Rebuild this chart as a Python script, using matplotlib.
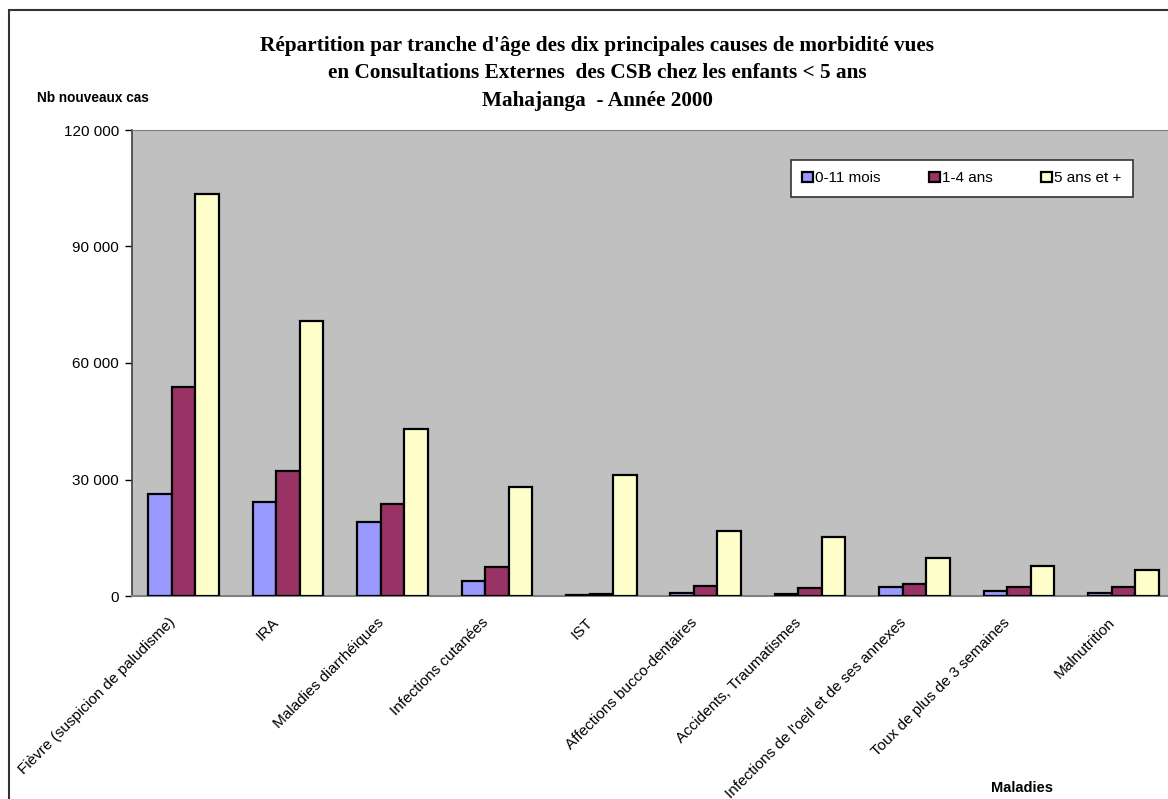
"""
Répartition par tranche d'âge des dix principales causes de morbidité - Mahajanga 2000.
"""
import matplotlib
matplotlib.use("Agg")
import matplotlib.pyplot as plt
import matplotlib.transforms as mtransforms
import numpy as np
from matplotlib.patches import Rectangle
from matplotlib.ticker import FuncFormatter, MultipleLocator

plt.rcParams["font.family"] = ["Liberation Sans", "DejaVu Sans"]

maladies = [
    "Fièvre (suspicion de paludisme)",
    "IRA",
    "Maladies diarrhéiques",
    "Infections cutanées",
    "IST",
    "Affections bucco-dentaires",
    "Accidents, Traumatismes",
    "Infections de l'oeil et de ses annexes",
    "Toux de plus de 3 semaines",
    "Malnutrition",
]
tranches = ["0-11 mois", "1-4 ans", "5 ans et +"]

cas_0_11_mois = [26200, 24300, 19000, 3900, 200, 800, 400, 2300, 1200, 900]
cas_1_4_ans = [53700, 32200, 23700, 7400, 400, 2700, 2100, 3000, 2400, 2200]
cas_5_ans_plus = [103400, 70800, 42900, 28100, 31200, 16800, 15300, 9800, 7700, 6700]

couleurs = ["#9999FF", "#993366", "#FFFFCC"]

fig = plt.figure(figsize=(11.68, 7.99), dpi=100, facecolor="white")

# cadre du graphique (coupé à droite et en bas comme dans l'original)
fig.patches.append(Rectangle((9 / 1168, -0.05), 1.2, (799 - 10) / 799 + 0.05,
                             transform=fig.transFigure, fill=False,
                             edgecolor="#333333", linewidth=1.5))

ax = fig.add_axes([131.5 / 1168, (799 - 596) / 799, 1044 / 1168, 466 / 799])
ax.set_facecolor("#C0C0C0")

x = np.arange(len(maladies))
w = 0.226
series = [cas_0_11_mois, cas_1_4_ans, cas_5_ans_plus]
for k, (vals, c, lab) in enumerate(zip(series, couleurs, tranches)):
    ax.bar(x + (k - 1) * w, vals, width=w, color=c, edgecolor="black",
           linewidth=1.6, label=lab, zorder=3)

ax.set_xlim(-0.5, len(maladies) - 0.5)
ax.set_ylim(0, 120000)
ax.yaxis.set_major_locator(MultipleLocator(30000))
ax.yaxis.set_major_formatter(FuncFormatter(lambda v, p: f"{int(v):,}".replace(",", " ")))
ax.tick_params(axis="y", direction="out", length=5, width=1, labelsize=11, pad=4)
ax.tick_params(axis="x", length=0, pad=14)

ax.set_xticks(x)
ax.set_xticklabels(maladies, rotation=45, ha="right", fontsize=11)
offset = mtransforms.ScaledTranslation(-6 / 100, 0, fig.dpi_scale_trans)
for t in ax.get_xticklabels():
    t.set_transform(t.get_transform() + offset)

for s in ["top", "right"]:
    ax.spines[s].set_color("#808080")
ax.spines["bottom"].set_color("#808080")
ax.spines["bottom"].set_linewidth(1.5)
ax.spines["left"].set_color("#404040")
ax.spines["left"].set_linewidth(1.2)

leg = ax.legend(loc="upper left", bbox_to_anchor=(0.6317, 0.856, 0.3276, 0.0796),
                mode="expand", ncol=3, fontsize=11, frameon=True, fancybox=False,
                handlelength=0.7, handleheight=0.7, handletextpad=0.15,
                columnspacing=2.0, borderpad=0.75, borderaxespad=0)
leg.get_frame().set_edgecolor("#333333")
leg.get_frame().set_linewidth(1.2)
leg.get_frame().set_facecolor("white")
leg.get_frame().set_alpha(1)

titre = [
    "Répartition par tranche d'âge des dix principales causes de morbidité vues",
    "en Consultations Externes  des CSB chez les enfants < 5 ans",
    "Mahajanga  - Année 2000",
]
for i, ligne in enumerate(titre):
    fig.text(597 / 1168, 1 - (46 + 27.5 * i) / 799, ligne, ha="center", va="center",
             fontsize=15.3, fontweight="bold", family=["Liberation Serif", "DejaVu Serif"])

fig.text(37 / 1168, 1 - 98 / 799, "Nb nouveaux cas", ha="left", va="center",
         fontsize=9.8, fontweight="bold")
fig.text(1022 / 1168, 1 - 788 / 799, "Maladies", ha="center", va="center",
         fontsize=10.5, fontweight="bold")

fig.savefig("out.png", dpi=100, facecolor="white")
